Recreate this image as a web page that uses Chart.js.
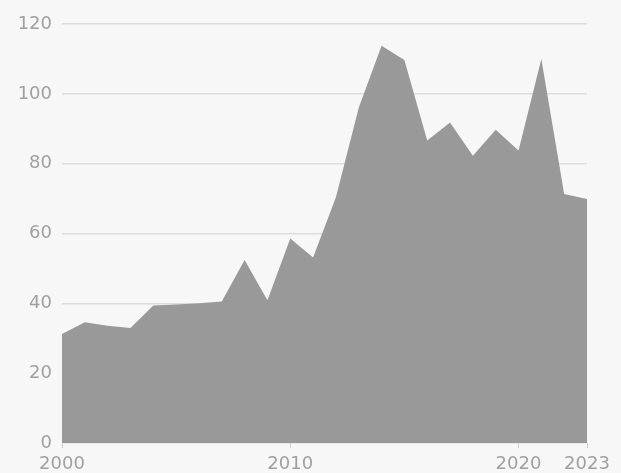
<!DOCTYPE html>
<html>
<head>
<meta charset="utf-8">
<script src="https://cdn.jsdelivr.net/npm/chart.js@4"></script>
<style>
  html, body { margin: 0; padding: 0; background: #f7f7f7; }
  #wrap { width: 621px; height: 473px; }
</style>
</head>
<body>
<div id="wrap"><canvas id="myChart"></canvas></div>
<script>
const years = [2000, 2001, 2002, 2003, 2004, 2005, 2006, 2007, 2008, 2009, 2010, 2011,
  2012, 2013, 2014, 2015, 2016, 2017, 2018, 2019, 2020, 2021, 2022, 2023];
const values = [31.2, 34.6, 33.6, 32.9, 39.4, 39.7, 40.0, 40.5, 52.4, 40.9, 58.6, 53.1,
  70.4, 96, 113.8, 109.7, 86.6, 91.8, 82.3, 89.7, 83.8, 110, 71.3, 69.9];
const xTicks = [2000, 2010, 2020, 2023];
const yTicks = [0, 20, 40, 60, 80, 100, 120];

const ctx = document.getElementById('myChart');

new Chart(ctx, {
  type: 'line',
  data: {
    datasets: [{
      data: years.map((y, i) => ({ x: y, y: values[i] })),
      backgroundColor: '#999999',
      borderWidth: 0,
      pointRadius: 0,
      fill: 'origin',
      tension: 0
    }]
  },
  options: {
    responsive: true,
    maintainAspectRatio: false,
    animation: false,
    layout: { padding: { top: 24, right: 34, left: 0, bottom: 0 } },
    plugins: { legend: { display: false }, tooltip: { enabled: false } },
    scales: {
      x: {
        type: 'linear',
        min: 2000,
        max: 2023,
        afterBuildTicks: s => { s.ticks = xTicks.map(v => ({ value: v })); },
        afterFit: s => { s.height = 30; },
        grid: { drawOnChartArea: false, drawTicks: true, tickLength: 5, color: '#cccccc' },
        border: { display: false },
        ticks: {
          color: '#a0a0a0',
          font: { family: 'DejaVu Sans', size: 18 },
          padding: 6,
          maxRotation: 0,
          callback: v => String(v)
        }
      },
      y: {
        min: 0,
        max: 120,
        afterBuildTicks: s => { s.ticks = yTicks.map(v => ({ value: v })); },
        afterFit: s => { s.width = 62; },
        grid: { color: '#dddddd', drawTicks: false, lineWidth: 1.5 },
        border: { display: false },
        ticks: {
          color: '#a0a0a0',
          font: { family: 'DejaVu Sans', size: 18 },
          padding: 10
        }
      }
    }
  }
});
</script>
</body>
</html>
